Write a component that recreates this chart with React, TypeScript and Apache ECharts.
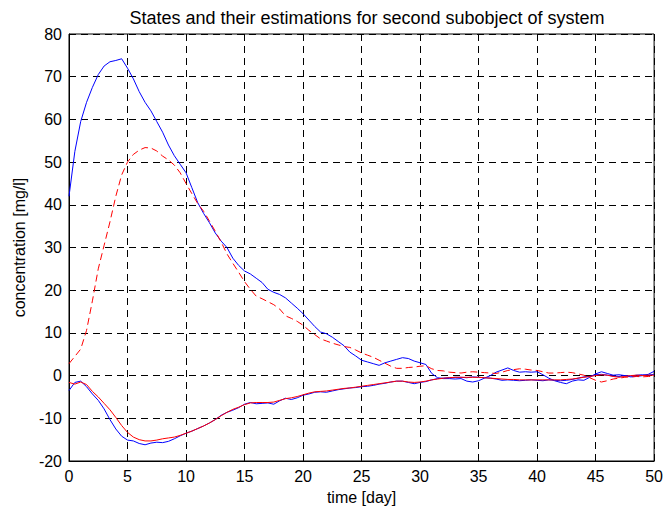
import React, { useEffect, useRef } from "react";
import * as echarts from "echarts";

const TITLE = "States and their estimations for second subobject of system";
const X_NAME = "time [day]";
const Y_NAME = "concentration [mg/l]";

// sample times (days), every half day from 0 to 50
const TIME: number[] = Array.from({ length: 101 }, (_, i) => i / 2);

// state 1 (blue solid)
const STATE1 = [
  42, 52.5, 59.5, 64, 67.5, 70.5, 72.5, 73.5, 73.8, 74.2,
  72, 69.5, 66.5, 64, 62, 59.5, 57, 54, 51.5, 49.5,
  47.5, 44, 40.5, 38, 35.8, 33.4, 31.5, 30, 27.5, 25.8,
  24.5, 23.8, 22.8, 21.8, 20.2, 19.5, 19, 18.2, 17, 15.8,
  14.5, 13, 11.5, 10.2, 9.8, 9, 8, 7, 5.5, 4.6,
  3.6, 3.2, 2.8, 2.4, 3, 3.4, 3.8, 4.2, 4, 3.4,
  3, 2.6, 0.5, -0.5, -0.7, -0.7, -0.8, -0.7, -1.3, -1.5,
  -1.2, -0.6, 0, 0.8, 1.3, 1.8, 1.2, 0.8, 0.9, 0.8,
  0.9, 0.2, -0.6, -1.2, -1.6, -1.9, -1.3, -1.0, -1.1, -0.4,
  0.4, 0.9, 0.5, 0.1, 0.2, 0, -0.3, -0.2, 0, 0.3,
  1,
];

// estimation of state 1 (red dashed)
const ESTIM1 = [
  2.8, 4.5, 6.2, 10.6, 17.5, 25, 30.5, 36, 42, 47,
  50, 51.8, 52.8, 53.4, 53.3, 52.6, 51.4, 50.5, 49.3, 47.5,
  45, 42.6, 40.3, 38.5, 36.2, 33.8, 31.3, 28.5, 26.3, 24.2,
  22, 20.2, 18.6, 18, 17.3, 16.6, 15.6, 14, 13.4, 12.7,
  11.8, 10.6, 9.6, 8.6, 8.1, 7.6, 7.2, 6.8, 6.6, 6,
  5.3, 4.8, 4.3, 3.6, 2.9, 2.2, 1.7, 1.7, 1.9, 2.0,
  2.2, 2.3, 1.6, 1.2, 1.1, 0.8, 0.7, 0.6, 0.8, 0.9,
  0.8, 0.7, 0.6, 0.5, 0.8, 1.2, 1.4, 1.6, 1.5, 1.3,
  1.2, 0.9, 0.6, 0.6, 0.7, 0.8, 0.7, 0.4, 0.1, -0.5,
  -1.1, -1.5, -1.2, -0.8, -0.6, -0.4, -0.3, -0.2, -0.3, -0.2,
  -0.2,
];

// state 2 (blue solid)
const STATE2 = [
  -3.5, -1.6, -1.3, -2.6, -4.3, -5.8, -7.8, -10.3, -12.5, -14.2,
  -15.1, -15.3, -15.9, -16.2, -15.8, -15.6, -15.7, -15.4, -14.8, -14.1,
  -13.5, -13.0, -12.4, -11.8, -11.1, -10.3, -9.3, -8.6, -8.1, -7.5,
  -6.7, -6.3, -6.6, -6.5, -6.4, -6.7, -5.9, -5.3, -5.6, -5.2,
  -4.6, -4.3, -3.9, -3.8, -3.9, -3.6, -3.3, -3.1, -2.9, -2.8,
  -2.6, -2.5, -2.3, -2.0, -1.8, -1.5, -1.3, -1.3, -1.6, -1.9,
  -1.6, -1.4, -1.0, -0.7, -0.6, -0.5, -0.4, -0.4, -0.5, -0.3,
  -0.4, -0.5, -0.6, -0.8, -1.1, -1.0, -1.1, -1.2, -1.1, -1.0,
  -1.1, -1.2, -1.0, -1.1, -1.2, -1.1, -0.9, -0.6, -0.3, -0.2,
  0.2, 0.3, 0.1, -0.1, -0.2, 0, -0.1, 0.1, 0.2, 0.1,
  0.3,
];

// estimation of state 2 (red solid)
const ESTIM2 = [
  -1.6, -2.0, -1.5, -2.1, -3.7, -5.0, -6.5, -8.0, -9.8, -11.7,
  -13.3, -14.4, -15.0, -15.3, -15.3, -15.1, -14.8, -14.6, -14.4, -14.0,
  -13.5, -13.0, -12.4, -11.8, -11.1, -10.3, -9.4, -8.6, -7.9, -7.4,
  -6.8, -6.4, -6.3, -6.3, -6.3, -6.2, -5.8, -5.4, -5.2, -4.9,
  -4.5, -4.1, -3.8, -3.7, -3.6, -3.4, -3.2, -3.0, -2.9, -2.7,
  -2.5, -2.3, -2.1, -1.9, -1.7, -1.5, -1.3, -1.3, -1.5, -1.6,
  -1.5, -1.3, -1.0, -0.8, -0.6, -0.5, -0.4, -0.4, -0.4, -0.4,
  -0.4, -0.5, -0.6, -0.7, -0.8, -0.9, -0.9, -1.0, -1.0, -1.0,
  -1.0, -1.0, -1.0, -1.0, -1.0, -0.9, -0.8, -0.6, -0.4, -0.2,
  0.0, 0.2, 0.1, -0.2, -0.4, -0.2, 0.0, 0.1, 0.0, 0.1,
  0.1,
];

const FONT = "'Liberation Sans', Arial, Helvetica, sans-serif";

function pairs(vals: number[]) {
  return vals.map((v, i) => [TIME[i], v]);
}

export default function App() {
  const ref = useRef<HTMLDivElement>(null);

  useEffect(() => {
    if (!ref.current) return;
    const chart = echarts.init(ref.current, undefined, { renderer: "svg" });
    const gridLine = {
      show: true,
      lineStyle: { color: "#000", width: 1, type: [7, 5] as number[] },
    };
    const axisCommon = {
      axisLine: { show: true, onZero: false, lineStyle: { color: "#000", width: 1 } },
      axisTick: { show: true, inside: true, length: 5, lineStyle: { color: "#000" } },
      axisLabel: { color: "#000", fontSize: 16, fontFamily: FONT },
      splitLine: gridLine,
      nameLocation: "middle" as const,
      nameTextStyle: { color: "#000", fontSize: 16, fontFamily: FONT },
    };
    chart.setOption({
      animation: false,
      backgroundColor: "#fff",
      textStyle: { fontFamily: FONT },
      title: {
        text: TITLE,
        left: 362,
        top: 4,
        textAlign: "center",
        textStyle: { color: "#000", fontSize: 18, fontWeight: "normal", fontFamily: FONT },
      },
      grid: {
        left: 69,
        right: 11,
        top: 34,
        bottom: 51,
        show: true,
        borderColor: "#000",
        borderWidth: 1,
        backgroundColor: "#fff",
      },
      xAxis: {
        type: "value",
        min: 0,
        max: 50,
        interval: 5,
        name: X_NAME,
        nameGap: 28,
        ...axisCommon,
        axisLabel: { ...axisCommon.axisLabel, margin: 7 },
      },
      yAxis: {
        type: "value",
        min: -20,
        max: 80,
        interval: 10,
        name: Y_NAME,
        nameGap: 42,
        ...axisCommon,
        axisLabel: { ...axisCommon.axisLabel, margin: 7 },
      },
      series: [
        {
          type: "line",
          data: pairs(STATE1),
          showSymbol: false,
          lineStyle: { color: "#0000ff", width: 1 },
        },
        {
          type: "line",
          data: pairs(ESTIM1),
          showSymbol: false,
          lineStyle: { color: "#ff0000", width: 1, type: [7, 4] },
        },
        {
          type: "line",
          data: pairs(STATE2),
          showSymbol: false,
          lineStyle: { color: "#0000ff", width: 1 },
        },
        {
          type: "line",
          data: pairs(ESTIM2),
          showSymbol: false,
          lineStyle: { color: "#ff0000", width: 1 },
        },
      ],
    });
    return () => chart.dispose();
  }, []);

  return (
    <div
      ref={ref}
      style={{ position: "fixed", left: 0, top: 0, width: 666, height: 512, background: "#fff" }}
    />
  );
}
